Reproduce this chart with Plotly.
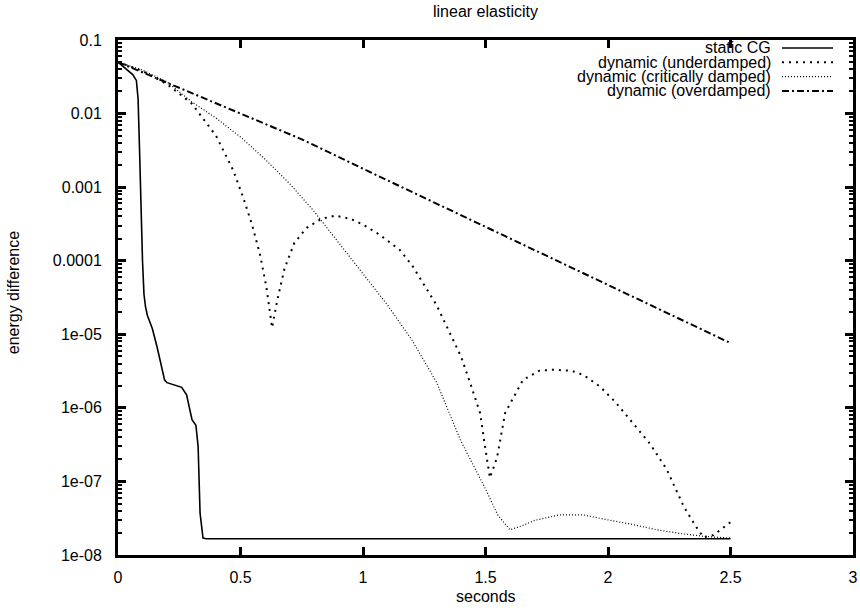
import plotly.graph_objects as go

# ---------------- data ----------------
static_t = [0.0, 0.03, 0.06, 0.075, 0.082, 0.088, 0.094, 0.1, 0.106, 0.112, 0.12, 0.14,
            0.16, 0.18, 0.19, 0.2, 0.24, 0.26, 0.28, 0.294, 0.302, 0.318, 0.327, 0.335,
            0.347, 0.36, 2.5]
static_e = [0.0501, 0.0417, 0.0339, 0.0282, 0.0158, 0.00316, 5.0e-4, 1.0e-4, 3.5e-5, 2.4e-5,
            1.8e-5, 1.2e-5, 6.6e-6, 3.2e-6, 2.4e-6, 2.2e-6, 2.0e-6, 1.9e-6, 1.5e-6, 9.3e-7,
            6.9e-7, 5.8e-7, 3.0e-7, 3.7e-8, 1.7e-8, 1.66e-8, 1.66e-8]

under_t = [0.0, 0.1, 0.2, 0.3, 0.4, 0.47, 0.51, 0.547, 0.58, 0.605, 0.629, 0.65, 0.68,
           0.72, 0.77, 0.83, 0.886, 0.95, 1.0, 1.069, 1.15, 1.2, 1.3, 1.4, 1.437, 1.478,
           1.498, 1.518, 1.547, 1.58, 1.653, 1.72, 1.776, 1.85, 1.9, 1.967, 2.03, 2.1,
           2.17, 2.24, 2.31, 2.36, 2.39, 2.43, 2.5]
under_e = [0.0501, 0.038, 0.0251, 0.0138, 0.005, 0.0017, 7.4e-4, 3.1e-4, 1.2e-4, 4.5e-5,
           1.23e-5, 2.9e-5, 7.9e-5, 1.75e-4, 2.8e-4, 3.7e-4, 4.1e-4, 3.7e-4, 3.1e-4,
           2.24e-4, 1.4e-4, 8.7e-5, 2.5e-5, 5.0e-6, 2.2e-6, 8.5e-7, 3.0e-7, 1.12e-7,
           2.1e-7, 8.5e-7, 2.4e-6, 3.2e-6, 3.3e-6, 3.2e-6, 2.8e-6, 1.95e-6, 1.2e-6,
           6.3e-7, 3.3e-7, 1.45e-7, 4.5e-8, 2.4e-8, 1.74e-8, 1.86e-8, 2.8e-8]

crit_t = [0.0, 0.1, 0.2, 0.3, 0.4, 0.5, 0.6, 0.7, 0.8, 0.9, 1.0, 1.1, 1.2, 1.3, 1.4, 1.5,
          1.55, 1.6, 1.65, 1.7, 1.8, 1.9, 2.0, 2.1, 2.2, 2.3, 2.4, 2.5]
crit_e = [0.0501, 0.039, 0.0269, 0.0145, 0.0087, 0.0048, 0.0024, 0.00112, 4.7e-4, 1.78e-4,
          6.8e-5, 2.5e-5, 8.3e-6, 2.24e-6, 3.5e-7, 7.9e-8, 3.5e-8, 2.2e-8, 2.5e-8, 2.95e-8,
          3.5e-8, 3.5e-8, 3.0e-8, 2.6e-8, 2.2e-8, 1.95e-8, 1.78e-8, 1.7e-8]

over_t = [0.0, 0.25, 0.5, 0.75, 1.0, 1.25, 1.5, 1.75, 2.0, 2.25, 2.5]
over_e = [0.0501, 0.0224, 0.0100, 0.00447, 0.00178, 7.2e-4, 2.9e-4, 1.17e-4, 4.7e-5,
          1.9e-5, 7.6e-6]

series_names = ["static CG", "dynamic (underdamped)", "dynamic (critically damped)",
                "dynamic (overdamped)"]

x_ticks = [0, 0.5, 1, 1.5, 2, 2.5, 3]
x_tick_labels = ["0", "0.5", "1", "1.5", "2", "2.5", "3"]
y_ticks = [1e-8, 1e-7, 1e-6, 1e-5, 1e-4, 1e-3, 1e-2, 1e-1]
y_tick_labels = ["1e-08", "1e-07", "1e-06", "1e-05", "0.0001", "0.001", "0.01", "0.1"]

# ---------------- styling ----------------
FONT = "Liberation Sans, Arial, Helvetica, sans-serif"
styles = [
    dict(color="black", width=1.6, dash="solid"),
    dict(color="black", width=2.0, dash="2px,5px"),
    dict(color="black", width=1.2, dash="1px,2px"),
    dict(color="black", width=2.0, dash="7px,3px,2px,3px"),
]
data = [(static_t, static_e), (under_t, under_e), (crit_t, crit_e), (over_t, over_e)]

fig = go.Figure()
for (t, e), name, st in zip(data, series_names, styles):
    fig.add_trace(go.Scatter(x=t, y=e, mode="lines", name=name, line=st,
                             showlegend=False))

# legend drawn gnuplot style: right-aligned text, sample to the right
row_y = [0.9845, 0.9567, 0.929, 0.901]
for name, st, yy in zip(series_names, styles, row_y):
    fig.add_annotation(xref="paper", yref="paper", x=0.8915, y=yy, text=name,
                       showarrow=False, xanchor="right", yanchor="middle",
                       font=dict(family=FONT, size=16, color="black"))
    fig.add_shape(type="line", xref="paper", yref="paper", x0=0.9034, x1=0.9728,
                  y0=yy, y1=yy, line=st)

# title and axis titles
fig.add_annotation(xref="paper", yref="paper", x=0.5, y=1.0544, text="linear elasticity",
                   showarrow=False, xanchor="center", yanchor="middle",
                   font=dict(family=FONT, size=16, color="black"))
fig.add_annotation(xref="paper", yref="paper", x=0.5, y=-0.080, text="seconds",
                   showarrow=False, xanchor="center", yanchor="middle",
                   font=dict(family=FONT, size=16, color="black"))
fig.add_annotation(xref="paper", yref="paper", x=-0.143, y=0.51, text="energy difference",
                   showarrow=False, xanchor="center", yanchor="middle", textangle=-90,
                   font=dict(family=FONT, size=16, color="black"))

minor_vals = [k * 10.0 ** p for p in range(-8, -1) for k in range(2, 10)]

fig.update_layout(
    width=860, height=610,
    margin=dict(l=118, r=7, t=40, b=55, autoexpand=False),
    paper_bgcolor="white", plot_bgcolor="white",
    font=dict(family=FONT, size=16, color="black"),
    showlegend=False,
)
fig.update_xaxes(
    range=[0, 3.0000001], tickmode="array", tickvals=x_ticks, ticktext=x_tick_labels,
    ticks="inside", ticklen=8, tickwidth=2.5, tickcolor="black",
    showline=True, linecolor="black", linewidth=3, mirror="ticks",
    showgrid=False, zeroline=False, ticklabelstandoff=6, automargin=False,
    ticklabeloverflow="allow",
)
fig.update_yaxes(
    type="log", range=[-8, -1], tickmode="array", tickvals=y_ticks,
    ticktext=y_tick_labels,
    ticks="inside", ticklen=8, tickwidth=2.5, tickcolor="black",
    minor=dict(tickmode="array", tickvals=minor_vals, ticks="inside", ticklen=4,
               tickwidth=2, tickcolor="black", showgrid=False),
    showline=True, linecolor="black", linewidth=3, mirror="ticks",
    showgrid=False, zeroline=False, ticklabelstandoff=10, automargin=False,
    ticklabeloverflow="allow",
)

fig.write_html("out.html", config={"displayModeBar": False},
               post_script="document.body.style.margin='0';document.body.style.padding='0';")
